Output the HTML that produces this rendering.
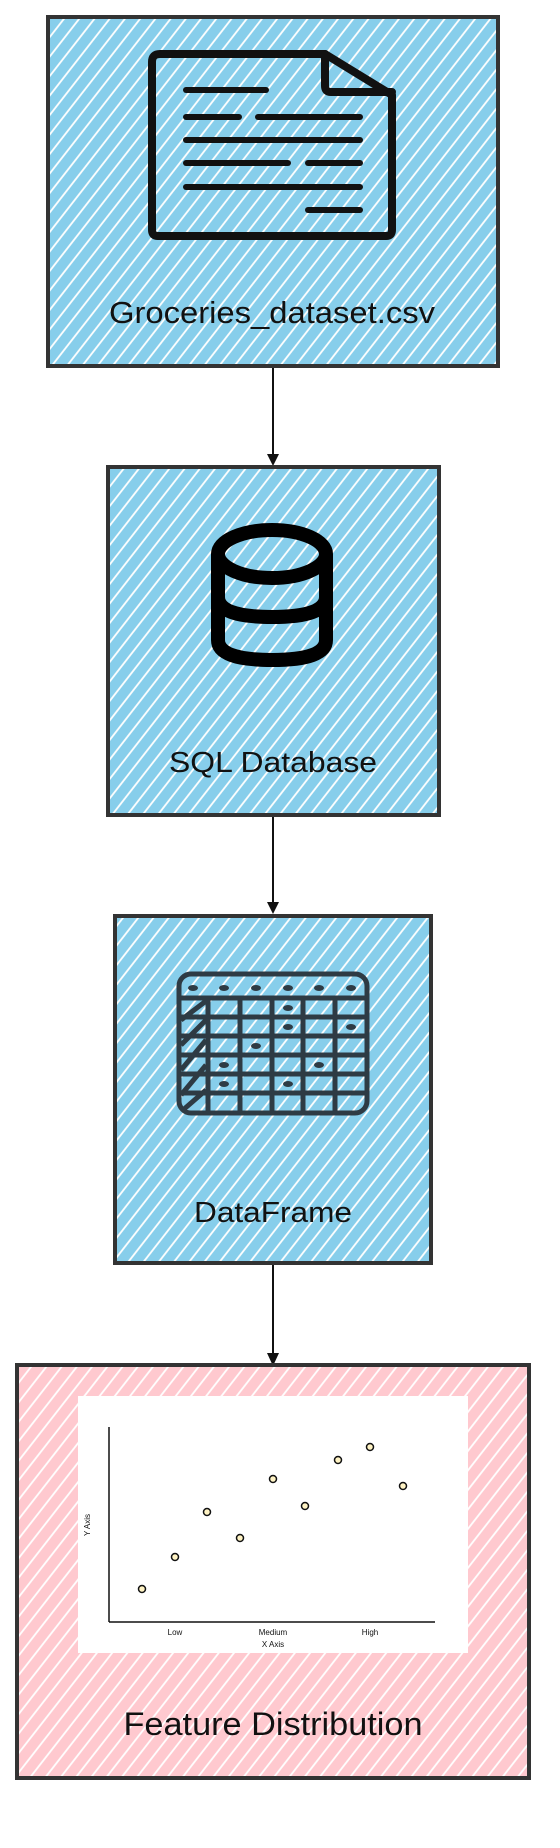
<!DOCTYPE html>
<html><head><meta charset="utf-8"><style>html,body{margin:0;padding:0;background:#fff}svg{display:block}</style></head>
<body>
<svg width="560" height="1848" viewBox="0 0 560 1848" xmlns="http://www.w3.org/2000/svg" font-family="'Liberation Sans', sans-serif">
<defs>
<pattern id="hb" width="12" height="12" patternUnits="userSpaceOnUse" patternTransform="rotate(38)">
<rect width="12" height="12" fill="#87ceeb"/><line x1="2" y1="0" x2="2" y2="12" stroke="#fff" stroke-width="1.8"/>
</pattern>
<pattern id="hp" width="12" height="12" patternUnits="userSpaceOnUse" patternTransform="rotate(38)">
<rect width="12" height="12" fill="#ffc9cf"/><line x1="2" y1="0" x2="2" y2="12" stroke="#fff" stroke-width="1.8"/>
</pattern>
</defs>

<g stroke="#111" stroke-width="2" fill="none">
<line x1="273" y1="366" x2="273" y2="458"/>
<line x1="273" y1="815" x2="273" y2="906"/>
<line x1="273" y1="1263" x2="273" y2="1358"/>
</g>
<path d="M267,454 L279,454 L273,466z" fill="#111"/>
<path d="M267,902 L279,902 L273,914z" fill="#111"/>
<path d="M267,1353 L279,1353 L273,1366z" fill="#111"/>

<rect x="48" y="17" width="450" height="349" fill="url(#hb)" stroke="#333" stroke-width="4"/>
<g fill="none" stroke="#111" stroke-linecap="round" stroke-linejoin="round">
<path d="M160,54 L325,54 L392,95 L392,230 Q392,236 386,236 L158,236 Q152,236 152,230 L152,62 Q152,54 160,54z" stroke-width="8"/>
<path d="M325,54 L325,86 Q325,92 331,92 L392,92" stroke-width="8"/>
<g stroke-width="6">
<line x1="186" y1="90" x2="266" y2="90"/>
<line x1="186" y1="117" x2="239" y2="117"/><line x1="258" y1="117" x2="360" y2="117"/>
<line x1="186" y1="140" x2="360" y2="140"/>
<line x1="186" y1="163" x2="288" y2="163"/><line x1="308" y1="163" x2="360" y2="163"/>
<line x1="186" y1="187" x2="360" y2="187"/>
<line x1="308" y1="210" x2="360" y2="210"/>
</g></g>
<text x="272" y="323" font-size="31" text-anchor="middle" textLength="326" lengthAdjust="spacingAndGlyphs" fill="#111">Groceries_dataset.csv</text>

<rect x="108" y="467" width="331" height="348" fill="url(#hb)" stroke="#333" stroke-width="4"/>
<g fill="none" stroke="#000" stroke-width="14">
<ellipse cx="272" cy="554" rx="54" ry="24"/>
<path d="M218,554 L218,640 Q218,660 272,660 Q326,660 326,640 L326,554"/>
<path d="M218,597 Q218,617 272,617 Q326,617 326,597"/>
</g>
<text x="273" y="772" font-size="29" text-anchor="middle" textLength="208" lengthAdjust="spacingAndGlyphs" fill="#111">SQL Database</text>

<rect x="115" y="916" width="316" height="347" fill="url(#hb)" stroke="#333" stroke-width="4"/>
<g fill="none" stroke="#2e3b44" stroke-width="5">
<rect x="179" y="974" width="188" height="139" rx="12"/>
<line x1="179" y1="998" x2="367" y2="998"/>
<line x1="179" y1="1017" x2="367" y2="1017"/>
<line x1="179" y1="1036" x2="367" y2="1036"/>
<line x1="179" y1="1055" x2="367" y2="1055"/>
<line x1="179" y1="1074" x2="367" y2="1074"/>
<line x1="179" y1="1093" x2="367" y2="1093"/>
<line x1="208" y1="998" x2="208" y2="1113"/>
<line x1="240" y1="998" x2="240" y2="1113"/>
<line x1="272" y1="998" x2="272" y2="1113"/>
<line x1="303" y1="998" x2="303" y2="1113"/>
<line x1="335" y1="998" x2="335" y2="1113"/>
<line x1="181" y1="1020" x2="206" y2="1001"/>
<line x1="181" y1="1045" x2="206" y2="1020"/>
<line x1="181" y1="1070" x2="206" y2="1040"/>
<line x1="181" y1="1095" x2="206" y2="1065"/>
<line x1="183" y1="1110" x2="206" y2="1090"/>
</g>
<g fill="#2e3b44">
<ellipse cx="193" cy="988" rx="5" ry="3"/><ellipse cx="224" cy="988" rx="5" ry="3"/><ellipse cx="256" cy="988" rx="5" ry="3"/><ellipse cx="288" cy="988" rx="5" ry="3"/><ellipse cx="319" cy="988" rx="5" ry="3"/><ellipse cx="351" cy="988" rx="5" ry="3"/>
<ellipse cx="288" cy="1008" rx="5" ry="3"/><ellipse cx="288" cy="1027" rx="5" ry="3"/><ellipse cx="351" cy="1027" rx="5" ry="3"/>
<ellipse cx="256" cy="1046" rx="5" ry="3"/><ellipse cx="224" cy="1065" rx="5" ry="3"/><ellipse cx="319" cy="1065" rx="5" ry="3"/>
<ellipse cx="224" cy="1084" rx="5" ry="3"/><ellipse cx="288" cy="1084" rx="5" ry="3"/>
</g>
<text x="273" y="1222" font-size="29" text-anchor="middle" textLength="158" lengthAdjust="spacingAndGlyphs" fill="#111">DataFrame</text>

<rect x="17" y="1365" width="512" height="413" fill="url(#hp)" stroke="#333" stroke-width="4"/>
<rect x="78" y="1396" width="390" height="257" fill="#fff"/>
<g stroke="#111" stroke-width="1.5" fill="none">
<line x1="109" y1="1427" x2="109" y2="1622"/>
<line x1="109" y1="1622" x2="435" y2="1622"/>
</g>
<g fill="#fff3c4" stroke="#111" stroke-width="1.5">
<circle cx="142" cy="1589" r="3.5"/><circle cx="175" cy="1557" r="3.5"/><circle cx="207" cy="1512" r="3.5"/>
<circle cx="240" cy="1538" r="3.5"/><circle cx="273" cy="1479" r="3.5"/><circle cx="305" cy="1506" r="3.5"/>
<circle cx="338" cy="1460" r="3.5"/><circle cx="370" cy="1447" r="3.5"/><circle cx="403" cy="1486" r="3.5"/>
</g>
<g font-size="8" fill="#111" text-anchor="middle">
<text x="175" y="1635">Low</text><text x="273" y="1635">Medium</text><text x="370" y="1635">High</text>
<text x="273" y="1647">X Axis</text>
<text x="0" y="0" transform="translate(90,1525) rotate(-90)">Y Axis</text>
</g>
<text x="273" y="1735" font-size="32" text-anchor="middle" textLength="299" lengthAdjust="spacingAndGlyphs" fill="#111">Feature Distribution</text>
</svg>
</body></html>
